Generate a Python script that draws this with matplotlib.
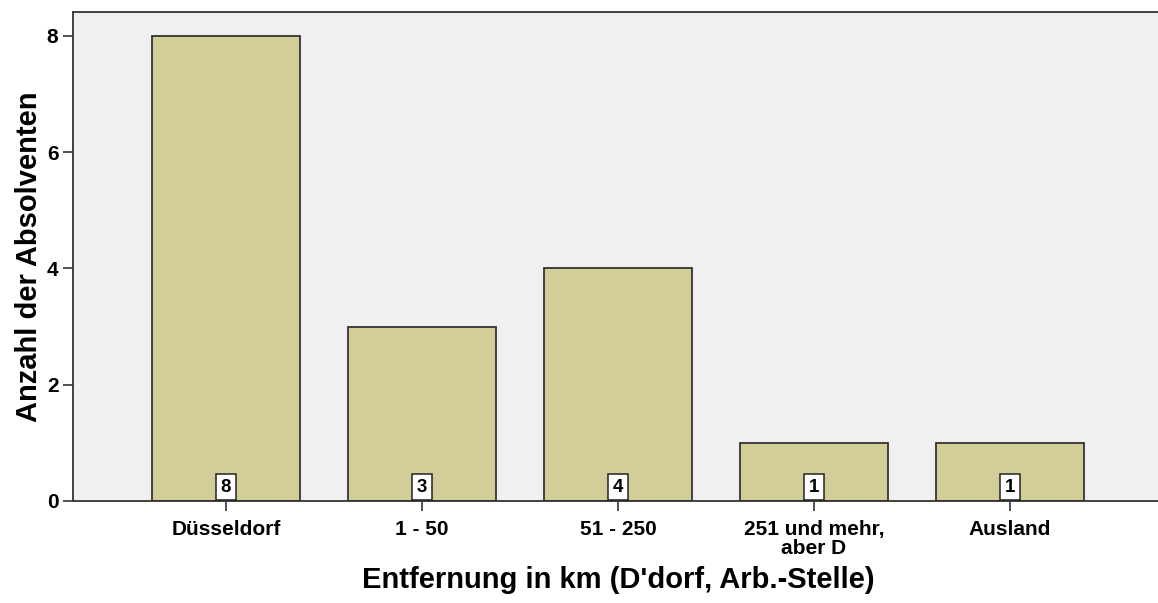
import matplotlib

matplotlib.use("Agg")
import matplotlib.pyplot as plt

categories = ["Düsseldorf", "1 - 50", "51 - 250", "251 und mehr,\naber D", "Ausland"]
counts = [8, 3, 4, 1, 1]
yticks = [0, 2, 4, 6, 8]

plt.rcParams["font.family"] = ["Liberation Sans", "DejaVu Sans"]

fig = plt.figure(figsize=(11.58, 6.03), dpi=100)
ax = fig.add_axes([73 / 1158, 102 / 603, 1090 / 1158, 489 / 603])
ax.set_facecolor("#f0f0f0")

x = list(range(len(categories)))
ax.bar(x, counts, width=0.755, color="#d3ce97", edgecolor="#333333", linewidth=1.3, zorder=2)

# count boxes sitting on the baseline
for xi, v in zip(x, counts):
    ax.annotate(str(v), xy=(xi, 0), xytext=(0, 3.8), textcoords="offset points",
                ha="center", va="bottom", fontsize=13.5, fontweight="bold", zorder=4,
                bbox=dict(boxstyle="square,pad=0.25", fc="white", ec="#222222", lw=1.1))

ax.set_xlim(-0.78, 4.78)
ax.set_ylim(0, 8.41)
ax.set_xticks(x)
ax.set_xticklabels(categories, fontsize=15, fontweight="bold", linespacing=1.0)
ax.set_yticks(yticks)
ax.set_yticklabels([str(t) for t in yticks], fontsize=15, fontweight="bold")
ax.tick_params(axis="both", direction="out", length=7.5, width=1.2, color="#333333", pad=3)
ax.tick_params(axis="x", pad=6)

ax.spines["right"].set_visible(False)
for side in ("left", "bottom", "top"):
    ax.spines[side].set_linewidth(1.3)
    ax.spines[side].set_color("#333333")

ax.set_xlabel("Entfernung in km (D'dorf, Arb.-Stelle)", fontsize=21, fontweight="bold", labelpad=6)
ax.set_ylabel("Anzahl der Absolventen", fontsize=21, fontweight="bold", labelpad=3)

fig.savefig("out.png", dpi=100)
plt.close(fig)
